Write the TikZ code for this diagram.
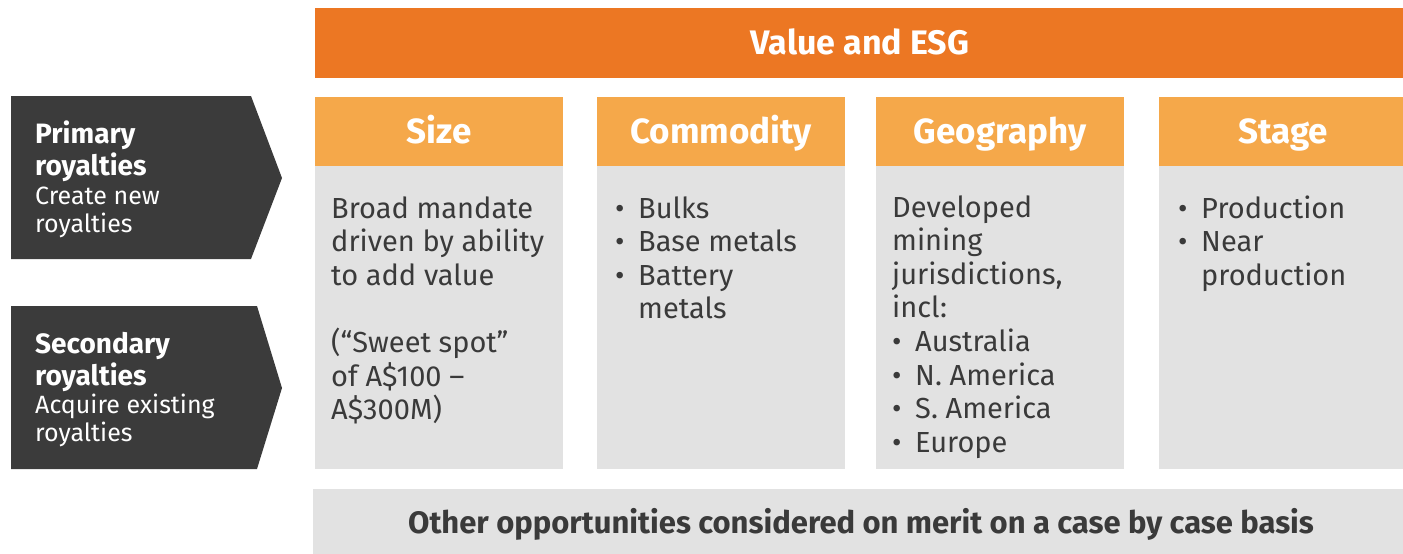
\documentclass[tikz,border=0pt]{standalone}
\usepackage{fontspec}
\setmainfont{Fira Sans}
\definecolor{topor}{HTML}{EC7723}
\definecolor{hdor}{HTML}{F5A84A}
\definecolor{boxg}{HTML}{E2E2E2}
\definecolor{darkb}{HTML}{3B3B3B}
\definecolor{txt}{HTML}{3A3A3A}
\newcommand\bl[1]{\makebox[23pt][l]{\textbullet}#1}
\newcommand\cl[1]{\hspace*{23pt}#1}
\begin{document}
\begin{tikzpicture}[x=1pt,y=-1pt,
  blk/.style={inner sep=0pt,outer sep=0pt,draw=none,anchor=north west},
  hdtxt/.style={inner sep=0pt,anchor=base,text=white,font=\fontsize{35}{38}\selectfont\bfseries},
  bodytxt/.style={inner sep=0pt,anchor=base west,text=txt,font=\fontsize{29}{33.6}\selectfont},
  lefttxt/.style={inner sep=0pt,anchor=base west,text=white}]
\useasboundingbox (0,0) rectangle (1403,554);
% top bar
\node[blk,fill=topor,minimum width=1088pt,minimum height=70pt] (top) at (315,8) {};
\node[hdtxt,font=\fontsize{34}{38}\selectfont\bfseries] (toptxt) at (860,54) {Value and ESG};
% headers
\node[blk,fill=hdor,minimum width=248pt,minimum height=70pt] (h1) at (315,97) {};
\node[blk,fill=hdor,minimum width=248pt,minimum height=70pt] (h2) at (597,97) {};
\node[blk,fill=hdor,minimum width=248pt,minimum height=70pt] (h3) at (876,97) {};
\node[blk,fill=hdor,minimum width=244pt,minimum height=70pt] (h4) at (1159,97) {};
\node[hdtxt] (t1) at (439,143) {Size};
\node[hdtxt] (t2) at (721,143) {Commodity};
\node[hdtxt] (t3) at (1000,143) {Geography};
\node[hdtxt] (t4) at (1283,143) {Stage};
% bodies
\node[blk,fill=boxg,minimum width=248pt,minimum height=303pt] (b1) at (315,166) {};
\node[blk,fill=boxg,minimum width=248pt,minimum height=303pt] (b2) at (597,166) {};
\node[blk,fill=boxg,minimum width=248pt,minimum height=303pt] (b3) at (876,166) {};
\node[blk,fill=boxg,minimum width=244pt,minimum height=303pt] (b4) at (1159,166) {};
\node[bodytxt] (s1) at (331,218) {\parbox[t]{230pt}{\raggedright Broad mandate\\driven by ability\\to add value\\[33.6pt](“Sweet spot”\\of A\$100 –\\A\$300M)}};
\node[bodytxt] (s2) at (615,218) {\parbox[t]{230pt}{\raggedright \bl{Bulks}\\\bl{Base metals}\\\bl{Battery}\\\cl{metals}}};
\node[bodytxt] (s3) at (892,217) {\parbox[t]{230pt}{\raggedright Developed\\mining\\jurisdictions,\\incl:\\\bl{Australia}\\\bl{N. America}\\\bl{S. America}\\\bl{Europe}}};
\node[bodytxt] (s4) at (1178,218) {\parbox[t]{230pt}{\raggedright \bl{Production}\\\bl{Near}\\\cl{production}}};
% bottom bar
\node[blk,fill=boxg,minimum width=1090pt,minimum height=65pt] (bot) at (313,489) {};
\node[inner sep=0pt,anchor=base,text=txt,font=\fontsize{31}{34}\selectfont\bfseries] (bottxt) at (861,533) {Other opportunities considered on merit on a case by case basis};
% left arrows
\fill[darkb] (11,96) -- (251,96) -- (282,178) -- (251,259) -- (11,259) -- cycle;
\fill[darkb] (11,306) -- (257,306) -- (282,388) -- (257,469) -- (11,469) -- cycle;
\node[lefttxt,font=\fontsize{28}{32}\selectfont\bfseries] (p1) at (35,143) {\parbox[t]{230pt}{Primary\\royalties}};
\node[lefttxt,font=\fontsize{25}{28.5}\selectfont] (p2) at (35,204) {\parbox[t]{230pt}{Create new\\royalties}};
\node[lefttxt,font=\fontsize{28}{32}\selectfont\bfseries] (q1) at (35,353) {\parbox[t]{230pt}{Secondary\\royalties}};
\node[lefttxt,font=\fontsize{25}{28.5}\selectfont] (q2) at (35,413) {\parbox[t]{230pt}{Acquire existing\\royalties}};
\end{tikzpicture}
\end{document}
